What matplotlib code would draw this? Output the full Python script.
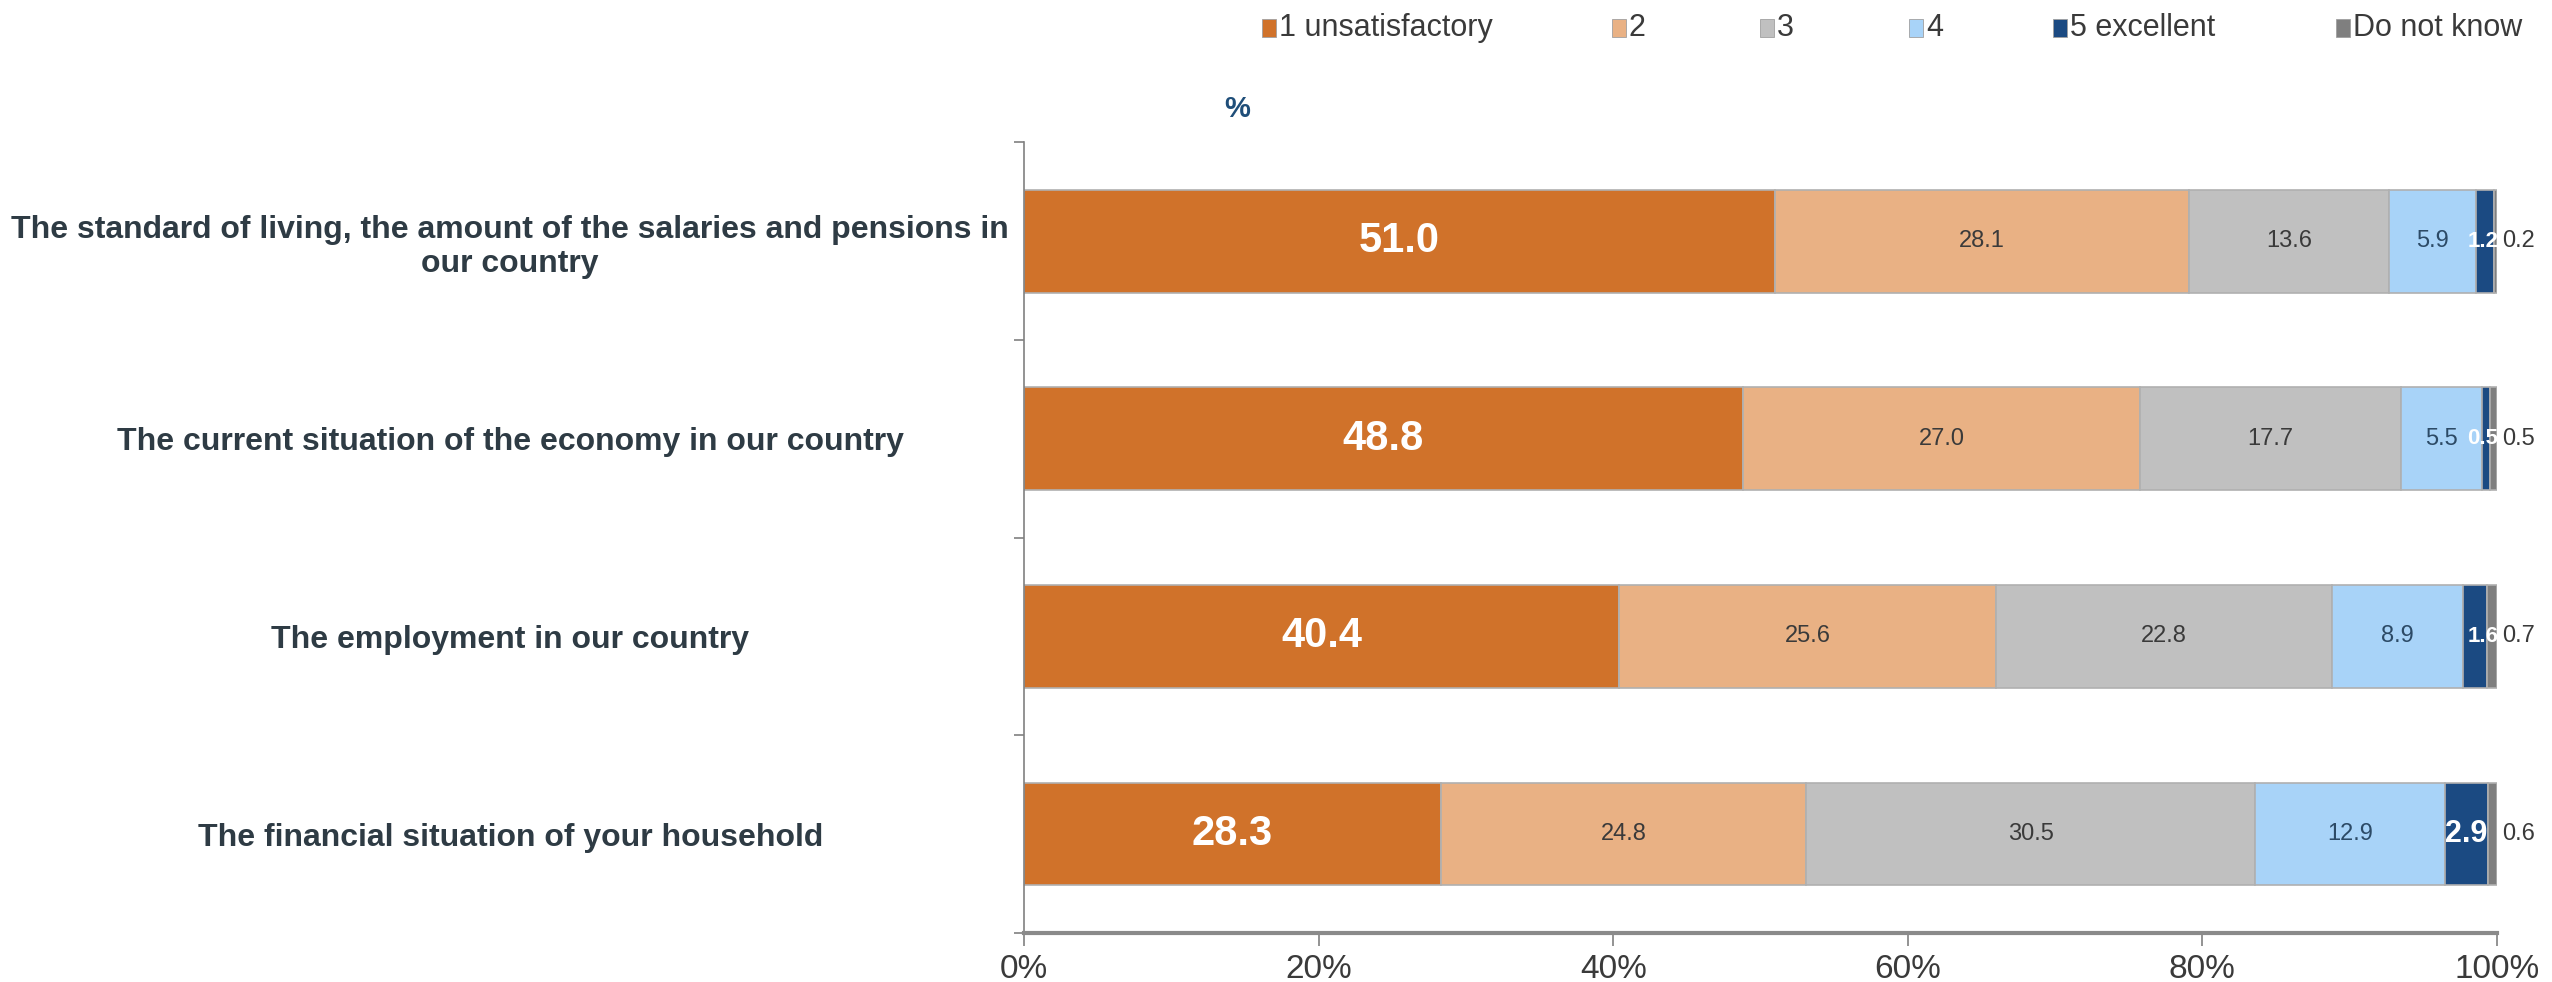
import numpy as np
import matplotlib.pyplot as plt
from matplotlib.patches import Rectangle

plt.rcParams['font.family'] = ['Liberation Sans', 'DejaVu Sans']

# survey items, top to bottom
items = [
    "The standard of living, the amount of the salaries and pensions in\nour country",
    "The current situation of the economy in our country",
    "The employment in our country",
    "The financial situation of your household",
]
grades = ["1 unsatisfactory", "2", "3", "4", "5 excellent", "Do not know"]

grade_1 = [51.0, 48.8, 40.4, 28.3]
grade_2 = [28.1, 27.0, 25.6, 24.8]
grade_3 = [13.6, 17.7, 22.8, 30.5]
grade_4 = [5.9, 5.5, 8.9, 12.9]
grade_5 = [1.2, 0.5, 1.6, 2.9]
dont_know = [0.2, 0.5, 0.7, 0.6]

colors = ['#D0722A', '#E9B184', '#C0C0C0', '#A8D3F8', '#1B4A82', '#7F7F7F']
label_colors = ['white', '#3A3A3A', '#3A3A3A', '#2C4A66', 'white', '#3A3A3A']
label_sizes = [30, 17, 17, 17, 22, 17]
label_weights = ['bold', 'normal', 'normal', 'normal', 'bold', 'normal']

series = [grade_1, grade_2, grade_3, grade_4, grade_5, dont_know]

fig = plt.figure(figsize=(25.52, 9.82), dpi=100)
ax = fig.add_axes([0.4013, 0.050, 0.5771, 0.805])

y = np.arange(len(items))
left = np.zeros(len(items))
for k, (vals, name, col) in enumerate(zip(series, grades, colors)):
    vals = np.array(vals)
    ax.barh(y, vals, left=left, height=0.52, color=col,
            edgecolor='#B0B0B0', linewidth=1.2, label=name)
    for yi, l, v in zip(y, left, vals):
        x, ha, size = l + v / 2, 'center', label_sizes[k]
        if k == 5:
            # "do not know" slivers: label just past the bar end
            x, ha = l + v + 0.35, 'left'
        elif k == 4 and v < 2:
            # thin "excellent" segments: push the label against the bar end
            x, ha, size = 100.1, 'right', 16
        ax.text(x, yi, f"{v:.1f}", ha=ha, va='center', color=label_colors[k],
                fontsize=size, fontweight=label_weights[k], clip_on=False)
    left += vals

ax.set_xlim(0, 100)
ax.set_ylim(len(items) - 0.5, -0.5)
ax.set_xticks(np.arange(0, 101, 20))
ax.set_xticklabels([f"{t}%" for t in range(0, 101, 20)])
ax.tick_params(axis='x', length=9, width=1.2, color='#808080',
               labelsize=24, labelcolor='#3A3A3A', pad=6)

ax.set_yticks(y)
ax.set_yticklabels(items, fontsize=23, fontweight='bold', color='#2E3B44',
                   ha='center', multialignment='center')
ax.tick_params(axis='y', which='major', length=0, pad=370)
ax.set_yticks(np.arange(-0.5, len(items), 1.0), minor=True)
ax.tick_params(axis='y', which='minor', length=7, width=1.2, color='#808080')

for s in ['top', 'right']:
    ax.spines[s].set_visible(False)
ax.spines['left'].set_color('#808080')
ax.spines['left'].set_linewidth(1.2)
ax.spines['bottom'].set_color('#8A8A8A')
ax.spines['bottom'].set_linewidth(3)

fig.text(0.4847, 0.889, '%', color='#1F4E79', fontsize=21, fontweight='bold',
         ha='center', va='center')

# legend row across the top
W, H = 2552, 982
legend_x = [1262, 1612, 1760, 1909, 2053, 2336]
legend_y = 0.971
for lx, name, col in zip(legend_x, grades, colors):
    fig.add_artist(Rectangle((lx / W, legend_y - 9 / H), 14 / W, 18 / H,
                             transform=fig.transFigure, facecolor=col,
                             edgecolor='#A0A0A0', linewidth=0.6))
    fig.text((lx + 17) / W, legend_y, name, fontsize=22, color='#3A3A3A',
             ha='left', va='center')

fig.savefig('out.png', dpi=100, facecolor='white')
